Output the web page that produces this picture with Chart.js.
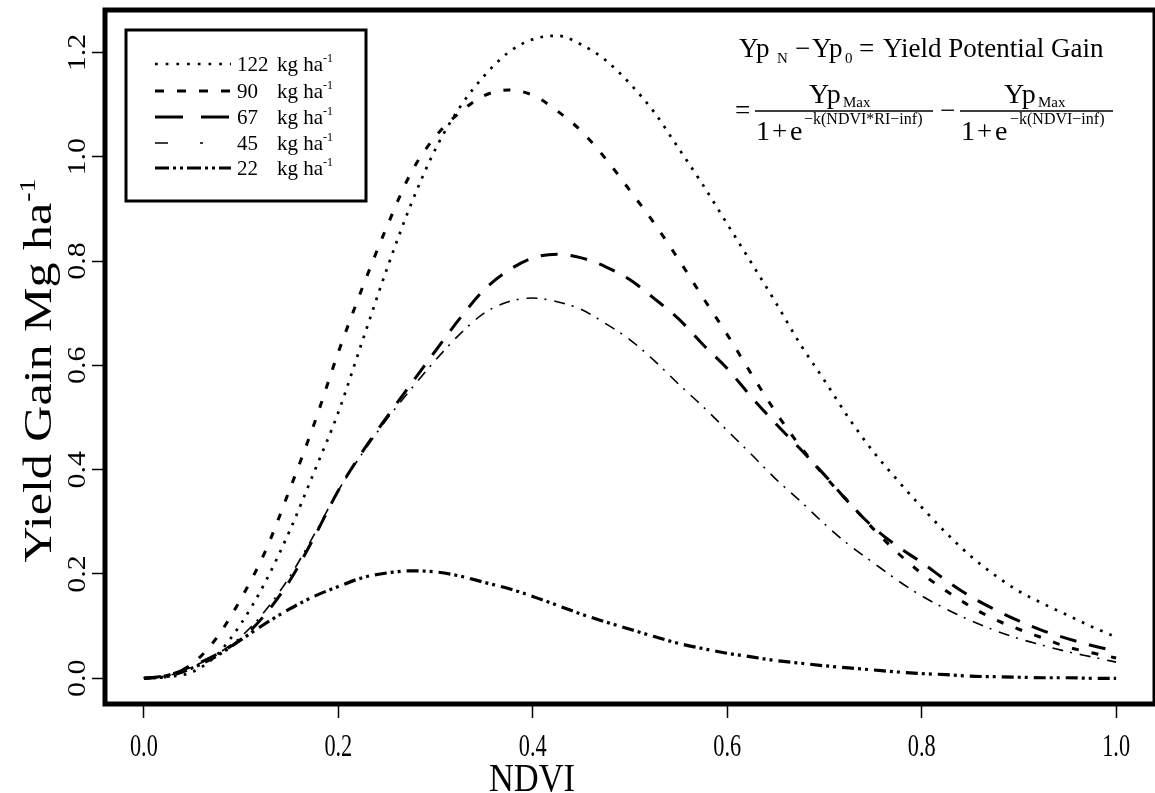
<!DOCTYPE html>
<html>
<head>
<meta charset="utf-8">
<script src="https://cdn.jsdelivr.net/npm/chart.js@4.4.1/dist/chart.umd.min.js"></script>
<style>
  html, body { margin: 0; padding: 0; background: #fff; }
  #wrap { width: 1155px; height: 793px; }
</style>
</head>
<body>
<div id="wrap"><canvas id="gainChart"></canvas></div>
<script>
const ndvi = [0, 0.025, 0.05, 0.075, 0.1, 0.125, 0.15, 0.175, 0.2, 0.225, 0.25, 0.275, 0.3, 0.325, 0.35, 0.375, 0.4,
    0.425, 0.45, 0.475, 0.5, 0.525, 0.55, 0.575, 0.6, 0.625, 0.65, 0.675, 0.7, 0.725, 0.75, 0.775, 0.8, 0.825, 0.85,
    0.875, 0.9, 0.925, 0.95, 0.975, 1.0];

// yield gain (Mg/ha) per N rate
const gain122 = [0, 0.003, 0.012, 0.045, 0.105, 0.185, 0.283, 0.395, 0.51, 0.648, 0.785, 0.91, 1.015, 1.095, 1.155,
    1.2, 1.225, 1.232, 1.215, 1.185, 1.14, 1.085, 1.016, 0.946, 0.871, 0.796, 0.72, 0.641, 0.571, 0.499, 0.435, 0.38,
    0.328, 0.279, 0.235, 0.198, 0.167, 0.143, 0.121, 0.099, 0.079];
const gain90 = [0, 0.006, 0.028, 0.078, 0.153, 0.244, 0.362, 0.487, 0.625, 0.75, 0.866, 0.97, 1.039, 1.085, 1.117,
    1.128, 1.118, 1.088, 1.049, 0.996, 0.935, 0.872, 0.803, 0.73, 0.659, 0.583, 0.51, 0.445, 0.388, 0.338, 0.287,
    0.241, 0.201, 0.168, 0.138, 0.113, 0.094, 0.077, 0.06, 0.049, 0.039];
const gain67 = [0, 0.006, 0.024, 0.046, 0.075, 0.123, 0.187, 0.27, 0.36, 0.435, 0.501, 0.565, 0.628, 0.69, 0.745,
    0.782, 0.806, 0.813, 0.806, 0.789, 0.764, 0.728, 0.689, 0.64, 0.594, 0.539, 0.488, 0.44, 0.39, 0.337, 0.29, 0.253,
    0.222, 0.188, 0.157, 0.132, 0.11, 0.091, 0.076, 0.063, 0.052];
const gain45 = [0, 0.005, 0.022, 0.046, 0.08, 0.13, 0.195, 0.275, 0.36, 0.432, 0.497, 0.555, 0.61, 0.66, 0.7, 0.722,
    0.729, 0.722, 0.707, 0.68, 0.649, 0.609, 0.564, 0.521, 0.475, 0.429, 0.382, 0.34, 0.296, 0.256, 0.222, 0.188,
    0.158, 0.133, 0.111, 0.092, 0.076, 0.063, 0.051, 0.041, 0.031];
const gain22 = [0, 0.004, 0.02, 0.043, 0.074, 0.105, 0.133, 0.157, 0.176, 0.193, 0.202, 0.206, 0.204, 0.196, 0.184,
    0.172, 0.157, 0.14, 0.123, 0.108, 0.094, 0.08, 0.067, 0.057, 0.048, 0.041, 0.034, 0.029, 0.024, 0.02, 0.016, 0.012,
    0.009, 0.007, 0.004, 0.003, 0.002, 0.001, 0.001, 0, 0];

const rateLabels = ['122', '90', '67', '45', '22'];
const xTicks = [0, 0.2, 0.4, 0.6, 0.8, 1.0];
const yTicks = [0, 0.2, 0.4, 0.6, 0.8, 1.0, 1.2];

const SERIF = '"Liberation Serif", "Times New Roman", serif';
const SQUEEZE = 0.75; // axis text in the figure is horizontally squashed

// the legend samples use a longer pattern than the curves
const legendDash = [[2.7, 8], [9, 13], [28, 18], [13, 32, 3, 30], [14, 4, 3, 4, 3, 4]];

function pairs(ys) {
    return ndvi.map((x, i) => ({ x: x, y: ys[i] }));
}

function squeezed(ctx, text, x, y, size, rot, sq) {
    ctx.save();
    ctx.translate(x, y);
    ctx.scale(sq || SQUEEZE, 1);
    ctx.rotate(rot);
    ctx.font = size + 'px ' + SERIF;
    ctx.textAlign = 'center';
    ctx.textBaseline = 'middle';
    ctx.fillText(text, 0, 0);
    ctx.restore();
}

function put(ctx, text, x, y, size) {
    ctx.font = size + 'px ' + SERIF;
    ctx.fillText(text, x, y);
}

const decorations = {
    id: 'decorations',
    afterDraw(chart) {
        const ctx = chart.ctx;
        const area = chart.chartArea;
        const xs = chart.scales.x;
        const ys = chart.scales.y;
        ctx.save();
        ctx.fillStyle = '#000';
        ctx.strokeStyle = '#000';

        // heavy frame round the plot
        ctx.lineWidth = 5;
        ctx.strokeRect(area.left, area.top, area.right - area.left, area.bottom - area.top);

        // tick labels
        xs.ticks.forEach(t => squeezed(ctx, t.value.toFixed(1), xs.getPixelForValue(t.value), 748, 31, 0, 0.72));
        ys.ticks.forEach(t => squeezed(ctx, t.value.toFixed(1), 78, ys.getPixelForValue(t.value), 30, -Math.PI / 2, 0.85));

        // axis titles
        squeezed(ctx, 'NDVI', 532, 780, 41, 0, 0.84);

        ctx.save();
        ctx.translate(51, 0);
        ctx.scale(0.82, 1);
        ctx.rotate(-Math.PI / 2);
        ctx.textAlign = 'left';
        ctx.textBaseline = 'alphabetic';
        ctx.font = '50px ' + SERIF;
        const main = 'Yield Gain Mg ha';
        const w1 = ctx.measureText(main).width;
        ctx.font = '28px ' + SERIF;
        const w2 = ctx.measureText('-1').width;
        const start = -(371 + (w1 + w2) / 2);
        ctx.font = '50px ' + SERIF;
        ctx.fillText(main, start, 0);
        ctx.font = '28px ' + SERIF;
        ctx.fillText('-1', start + w1 + 1, -19);
        ctx.restore();

        // legend
        ctx.lineWidth = 3;
        ctx.strokeRect(126, 30, 240, 171);
        const rowY = [64, 91, 117, 143, 168];
        chart.data.datasets.forEach((ds, i) => {
            ctx.save();
            ctx.lineWidth = ds.borderWidth;
            ctx.setLineDash(legendDash[i]);
            ctx.beginPath();
            ctx.moveTo(155, rowY[i]);
            ctx.lineTo(231, rowY[i]);
            ctx.stroke();
            ctx.restore();
            ctx.textAlign = 'left';
            ctx.textBaseline = 'alphabetic';
            put(ctx, rateLabels[i], 237, rowY[i] + 7, 21);
            put(ctx, 'kg ha', 277, rowY[i] + 7, 21);
            put(ctx, '-1', 323, rowY[i] - 2, 12);
        });

        // equation
        ctx.textAlign = 'left';
        ctx.textBaseline = 'alphabetic';
        put(ctx, 'Yp', 739, 57, 27);
        put(ctx, 'N', 777, 63, 15);
        put(ctx, '\u2212', 795, 57, 27);
        put(ctx, 'Yp', 812, 57, 27);
        put(ctx, '0', 845, 63, 15);
        put(ctx, '=', 859, 57, 27);
        put(ctx, 'Yield Potential Gain', 883, 57, 27);

        put(ctx, '=', 735, 119, 27);
        ctx.lineWidth = 1.5;
        ctx.beginPath();
        ctx.moveTo(755, 111); ctx.lineTo(933, 111);
        ctx.moveTo(960, 111); ctx.lineTo(1113, 111);
        ctx.stroke();
        put(ctx, 'Yp', 809, 103, 28);
        put(ctx, 'Max', 843, 107, 15);
        put(ctx, '1', 756, 140, 28);
        put(ctx, '+', 772, 140, 27);
        put(ctx, 'e', 790, 140, 28);
        put(ctx, '\u2212k(NDVI*RI\u2212inf)', 804, 124, 16);
        put(ctx, '\u2212', 940, 119, 27);
        put(ctx, 'Yp', 1004, 103, 28);
        put(ctx, 'Max', 1038, 107, 15);
        put(ctx, '1', 961, 140, 28);
        put(ctx, '+', 977, 140, 27);
        put(ctx, 'e', 995, 140, 28);
        put(ctx, '\u2212k(NDVI\u2212inf)', 1010, 124, 16);

        ctx.restore();
    }
};

new Chart(document.getElementById('gainChart'), {
    type: 'line',
    data: {
        datasets: [
            { label: '122 kg ha-1', data: pairs(gain122), borderColor: '#000', borderWidth: 2.7, borderDash: [2.7, 7.3] },
            { label: '90 kg ha-1', data: pairs(gain90), borderColor: '#000', borderWidth: 3, borderDash: [7, 13] },
            { label: '67 kg ha-1', data: pairs(gain67), borderColor: '#000', borderWidth: 3, borderDash: [17, 13] },
            { label: '45 kg ha-1', data: pairs(gain45), borderColor: '#000', borderWidth: 1.6, borderDash: [11, 7, 2, 8] },
            { label: '22 kg ha-1', data: pairs(gain22), borderColor: '#000', borderWidth: 3.2, borderDash: [12, 4, 3, 4, 3, 6] }
        ]
    },
    options: {
        responsive: true,
        maintainAspectRatio: false,
        animation: false,
        layout: { padding: { top: 10, right: 0, left: 0, bottom: 0 } },
        elements: {
            point: { radius: 0 },
            line: { cubicInterpolationMode: 'monotone', fill: false }
        },
        plugins: {
            legend: { display: false },
            tooltip: { enabled: false }
        },
        scales: {
            x: {
                type: 'linear',
                min: -0.04,
                max: 1.04,
                afterBuildTicks: scale => { scale.ticks = xTicks.map(v => ({ value: v })); },
                afterFit: scale => { scale.height = 89; },
                ticks: { display: false },
                grid: { drawOnChartArea: false, drawTicks: true, tickLength: 14, tickWidth: 1.5, tickColor: '#000' },
                border: { display: false }
            },
            y: {
                type: 'linear',
                min: -0.0493,
                max: 1.2813,
                afterBuildTicks: scale => { scale.ticks = yTicks.map(v => ({ value: v })); },
                afterFit: scale => { scale.width = 105; },
                ticks: { display: false },
                grid: { drawOnChartArea: false, drawTicks: true, tickLength: 13, tickWidth: 1.5, tickColor: '#000' },
                border: { display: false }
            }
        }
    },
    plugins: [decorations]
});
</script>
</body>
</html>
